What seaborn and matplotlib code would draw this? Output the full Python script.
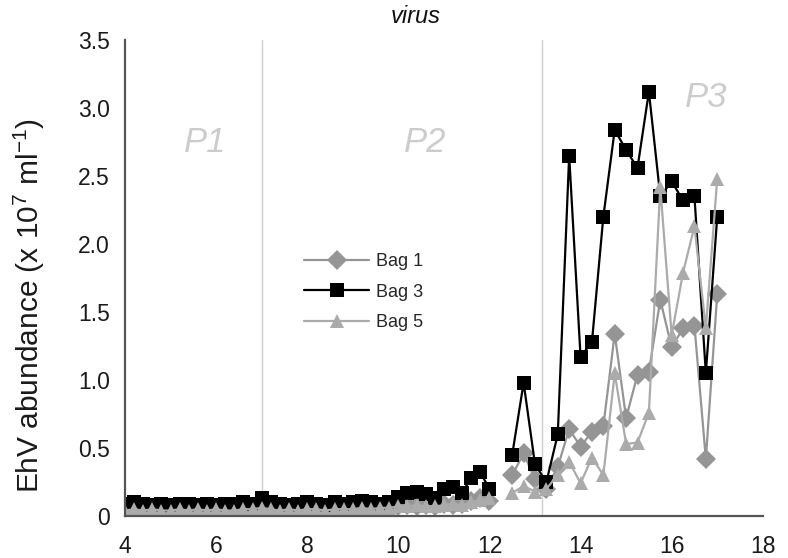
import matplotlib
matplotlib.use("Agg")
import matplotlib.pyplot as plt
import seaborn as sns
import pandas as pd
from matplotlib.ticker import FuncFormatter

# ---------------- data ----------------
day_early = [4.0, 4.2, 4.4, 4.6, 4.8, 5.0, 5.2, 5.4, 5.6, 5.8, 6.0, 6.2, 6.4, 6.6, 6.8,
             7.0, 7.2, 7.4, 7.6, 7.8, 8.0, 8.2, 8.4, 8.6, 8.8, 9.0, 9.2, 9.4, 9.6, 9.8,
             10.0, 10.2, 10.4, 10.6, 10.8, 11.0, 11.2, 11.4, 11.6, 11.8, 12.0]
day_late = [12.5, 12.75, 13.0, 13.25, 13.5, 13.75, 14.0, 14.25, 14.5, 14.75,
            15.0, 15.25, 15.5, 15.75, 16.0, 16.25, 16.5, 16.75, 17.0]

bag1_early = [0.05, 0.04, 0.05, 0.04, 0.05, 0.04, 0.04, 0.05, 0.04, 0.05, 0.04, 0.05, 0.04, 0.05, 0.05,
              0.06, 0.05, 0.04, 0.05, 0.04, 0.05, 0.05, 0.04, 0.05, 0.06, 0.05, 0.05, 0.06, 0.05, 0.06,
              0.07, 0.08, 0.07, 0.08, 0.07, 0.09, 0.08, 0.09, 0.11, 0.13, 0.11]
bag3_early = [0.09, 0.10, 0.09, 0.08, 0.09, 0.08, 0.09, 0.09, 0.08, 0.09, 0.08, 0.09, 0.09, 0.10, 0.09,
              0.13, 0.10, 0.09, 0.08, 0.09, 0.10, 0.09, 0.08, 0.10, 0.09, 0.10, 0.11, 0.10, 0.09, 0.10,
              0.14, 0.17, 0.18, 0.16, 0.13, 0.20, 0.21, 0.17, 0.28, 0.32, 0.20]
bag5_early = [0.04, 0.05, 0.04, 0.05, 0.04, 0.04, 0.05, 0.04, 0.05, 0.04, 0.05, 0.04, 0.04, 0.05, 0.05,
              0.06, 0.05, 0.04, 0.05, 0.04, 0.05, 0.05, 0.04, 0.05, 0.05, 0.05, 0.06, 0.05, 0.06, 0.06,
              0.07, 0.07, 0.08, 0.07, 0.07, 0.08, 0.09, 0.08, 0.10, 0.12, 0.13]

bag1_late = [0.30, 0.46, 0.27, 0.20, 0.36, 0.64, 0.51, 0.62, 0.66, 1.34, 0.72, 1.04, 1.06, 1.59,
             1.24, 1.38, 1.40, 0.42, 1.63]
bag3_late = [0.45, 0.98, 0.38, 0.25, 0.60, 2.65, 1.17, 1.28, 2.20, 2.84, 2.69, 2.56, 3.12, 2.35,
             2.46, 2.32, 2.35, 1.05, 2.20]
bag5_late = [0.17, 0.22, 0.18, 0.20, 0.30, 0.40, 0.24, 0.43, 0.30, 1.05, 0.53, 0.54, 0.76, 2.42,
             1.33, 1.79, 2.13, 1.38, 2.48]

bags = ["Bag 1", "Bag 3", "Bag 5"]
phase_labels = ["P1", "P2", "P3"]
x_ticks = [4, 6, 8, 10, 12, 14, 16, 18]
y_ticks = [0, 0.5, 1.0, 1.5, 2.0, 2.5, 3.0, 3.5]

# ---------------- long-form table ----------------
rows = []
series = {
    "Bag 1": (bag1_early, bag1_late),
    "Bag 3": (bag3_early, bag3_late),
    "Bag 5": (bag5_early, bag5_late),
}
for bag in bags:
    early, late = series[bag]
    for d, v in zip(day_early, early):
        rows.append((d, v, bag, "early"))
    for d, v in zip(day_late, late):
        rows.append((d, v, bag, "late"))
df = pd.DataFrame(rows, columns=["day", "value", "bag", "segment"])

# ---------------- style ----------------
sns.set_theme(style="white")
plt.rcParams["font.family"] = ["Liberation Sans", "DejaVu Sans"]
plt.rcParams["mathtext.fontset"] = "custom"
plt.rcParams["mathtext.rm"] = "Liberation Sans"
plt.rcParams["mathtext.it"] = "Liberation Sans:italic"

fig = plt.figure(figsize=(7.88, 5.58), dpi=100)
ax = fig.add_axes([0.1586, 0.0753, 0.8094, 0.8530])

palette = {"Bag 1": "#959595", "Bag 3": "#000000", "Bag 5": "#ababab"}
markers = {"Bag 1": "D", "Bag 3": "s", "Bag 5": "^"}

# phase separators
ax.axvline(7.0, color="#cfcfcf", lw=1.0, zorder=0)
ax.axvline(13.15, color="#cfcfcf", lw=1.0, zorder=0)

sns.lineplot(data=df, x="day", y="value", hue="bag", style="bag", units="segment",
             estimator=None, hue_order=bags, style_order=bags, palette=palette,
             markers=markers, dashes=False, linewidth=1.6, markersize=10.5,
             markeredgewidth=0, ax=ax)

ax.set_xlim(4, 18)
ax.set_ylim(0, 3.5)
ax.set_xticks(x_ticks)
ax.set_yticks(y_ticks)
ax.yaxis.set_major_formatter(FuncFormatter(lambda v, p: "0" if v == 0 else f"{v:.1f}"))
ax.tick_params(axis="both", labelsize=16.5, colors="#1a1a1a", direction="out",
               length=5, width=1.2, pad=6)
ax.tick_params(axis="x", pad=9)
for s in ["top", "right"]:
    ax.spines[s].set_visible(False)
for s in ["left", "bottom"]:
    ax.spines[s].set_color("#555555")
    ax.spines[s].set_linewidth(1.6)

ax.set_xlabel("")
ax.set_ylabel(r"EhV abundance (x 10$^{\mathrm{7}}$ ml$^{\mathrm{-1}}$)", fontsize=21.5, color="#1a1a1a")
ax.yaxis.set_label_coords(-0.122, 0.443)

# phase labels
phase_pos = [(5.75, 2.75), (10.6, 2.75), (16.75, 3.08)]
for lab, (px, py) in zip(phase_labels, phase_pos):
    ax.text(px, py, lab, fontsize=25, style="italic", color="#cccccc",
            ha="center", va="center")

# title
fig.text(0.527, 0.97, "virus", fontsize=17, style="italic", color="#111111",
         ha="center", va="center")

handles, labels = ax.get_legend_handles_labels()
ax.legend(handles, labels, loc="upper left", bbox_to_anchor=(0.281, 0.552),
          frameon=False, fontsize=13, handlelength=3.6, handletextpad=0.4,
          labelspacing=0.75, borderpad=0, borderaxespad=0)

fig.savefig("out.png", dpi=100)
